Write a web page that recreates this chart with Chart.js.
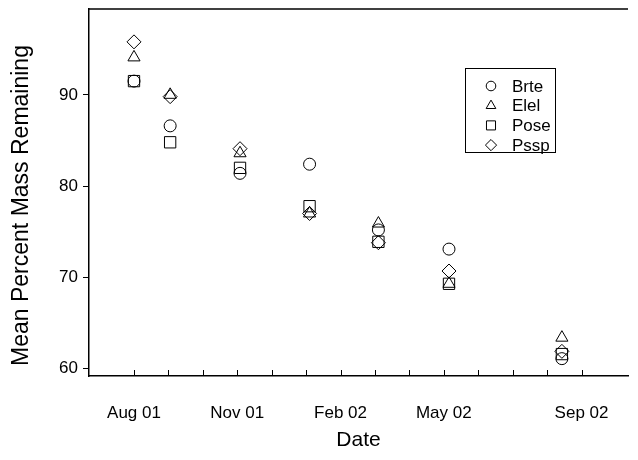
<!DOCTYPE html>
<html>
<head>
<meta charset="utf-8">
<script src="https://cdn.jsdelivr.net/npm/chart.js@4/dist/chart.umd.min.js"></script>
<style>
  html, body { margin: 0; padding: 0; background: #fff; }
  #wrap { width: 638px; height: 460px; }
</style>
</head>
<body>
<div id="wrap"><canvas id="massChart"></canvas></div>
<script>
// x positions in months since Jan 2001 (Aug 01 = 7)
const sampleMonths = [7.0, 8.05, 10.08, 12.1, 14.1, 16.15, 19.43];

const brte = [91.5, 86.6, 81.4, 82.4, 75.2, 73.1, 61.1];
const elel = [94.1, 90.0, 83.6, 77.0, 75.9, 69.3, 63.4];
const pose = [91.5, 84.8, 82.0, 77.8, 73.9, 69.3, 61.6];
const pssp = [95.8, 89.8, 84.1, 77.0, 73.8, 70.7, 61.9];

const tickMonths = [7, 8, 9, 10, 11, 12, 13, 14, 15, 16, 17, 18, 19, 20];
const tickLabels = { 7: "Aug 01", 10: "Nov 01", 13: "Feb 02", 16: "May 02", 20: "Sep 02" };
const yTicks = [60, 70, 80, 90];
const yTitle = "Mean Percent Mass Remaining";

const FONT = "'Liberation Sans', Arial, sans-serif";

function pts(values) {
  return values.map((v, i) => ({ x: sampleMonths[i], y: v }));
}

const series = [
  { label: "Brte", data: brte, style: "circle", r: 6 },
  { label: "Elel", data: elel, style: "triangle", r: 7 },
  { label: "Pose", data: pose, style: "rect", r: 8 },
  { label: "Pssp", data: pssp, style: "rectRot", r: 7 },
];

// box legend, top border, inward x tick marks, y title
const extras = {
  id: "extras",
  afterDraw(chart) {
    const ctx = chart.ctx;
    const area = chart.chartArea;
    const xs = chart.scales.x;
    ctx.save();
    ctx.strokeStyle = "#000";
    ctx.lineWidth = 1.5;
    ctx.beginPath();
    ctx.moveTo(area.left, area.top);
    ctx.lineTo(area.right, area.top);
    ctx.stroke();

    ctx.lineWidth = 1;
    xs.ticks.forEach(t => {
      const px = Math.round(xs.getPixelForValue(t.value)) + 0.5;
      ctx.beginPath();
      ctx.moveTo(px, area.bottom);
      ctx.lineTo(px, area.bottom - 6);
      ctx.stroke();
    });

    // y title, a bit below the middle like the original
    ctx.save();
    ctx.translate(22, (area.top + area.bottom) / 2 + 13);
    ctx.rotate(-Math.PI / 2);
    ctx.font = "23px " + FONT;
    ctx.fillStyle = "#000";
    ctx.textAlign = "center";
    ctx.textBaseline = "middle";
    ctx.fillText(yTitle, 0, 0);
    ctx.restore();

    // legend
    const bx = 465, by = 68, bw = 90, bh = 84;
    ctx.lineWidth = 1;
    ctx.strokeRect(bx + 0.5, by + 0.5, bw, bh);
    ctx.font = "17px " + FONT;
    ctx.textBaseline = "middle";
    series.forEach((s, i) => {
      const y = by + 18 + i * 19.7;
      ctx.fillStyle = "rgba(0,0,0,0)";
      Chart.helpers.drawPoint(ctx, { pointStyle: s.style, radius: s.r * 0.8, borderWidth: 1 }, bx + 26, y);
      ctx.fillStyle = "#000";
      ctx.fillText(s.label, bx + 47, y + 1);
    });
    ctx.restore();
  }
};

new Chart(document.getElementById("massChart"), {
  type: "scatter",
  data: {
    datasets: series.map(s => ({
      label: s.label,
      data: pts(s.data),
      pointStyle: s.style,
      pointRadius: s.r,
      pointHoverRadius: s.r,
      pointBorderWidth: 1,
      pointBorderColor: "#000",
      pointBackgroundColor: "rgba(0,0,0,0)",
    })),
  },
  options: {
    responsive: true,
    maintainAspectRatio: false,
    animation: false,
    layout: { padding: { left: 0, right: 10, top: 8, bottom: 0 } },
    plugins: {
      legend: { display: false },
      tooltip: { enabled: false },
    },
    scales: {
      x: {
        type: "linear",
        min: 5.693,
        max: 21.35,
        afterBuildTicks: scale => { scale.ticks = tickMonths.map(v => ({ value: v })); },
        afterFit: scale => { scale.height = 84; },
        grid: { display: false, drawTicks: false },
        border: { display: true, color: "#000", width: 1.5 },
        ticks: {
          color: "#000",
          font: { family: FONT, size: 17 },
          padding: 27,
          maxRotation: 0,
          autoSkip: false,
          callback: v => tickLabels[v] || "",
        },
        title: {
          display: true,
          text: "Date",
          color: "#000",
          font: { family: FONT, size: 21 },
          padding: { top: 0, bottom: 7 },
        },
      },
      y: {
        min: 59.2,
        max: 99.4,
        afterBuildTicks: scale => { scale.ticks = yTicks.map(v => ({ value: v })); },
        afterFit: scale => {
          scale.width = 89;
          scale.paddingTop = 0;
          scale.paddingBottom = 0;
        },
        grid: { drawOnChartArea: false, drawTicks: true, tickLength: 6, color: "#000" },
        border: { display: true, color: "#000", width: 1.5 },
        ticks: {
          color: "#000",
          font: { family: FONT, size: 17 },
          padding: 5,
        },
      },
    },
  },
  plugins: [extras],
});
</script>
</body>
</html>
